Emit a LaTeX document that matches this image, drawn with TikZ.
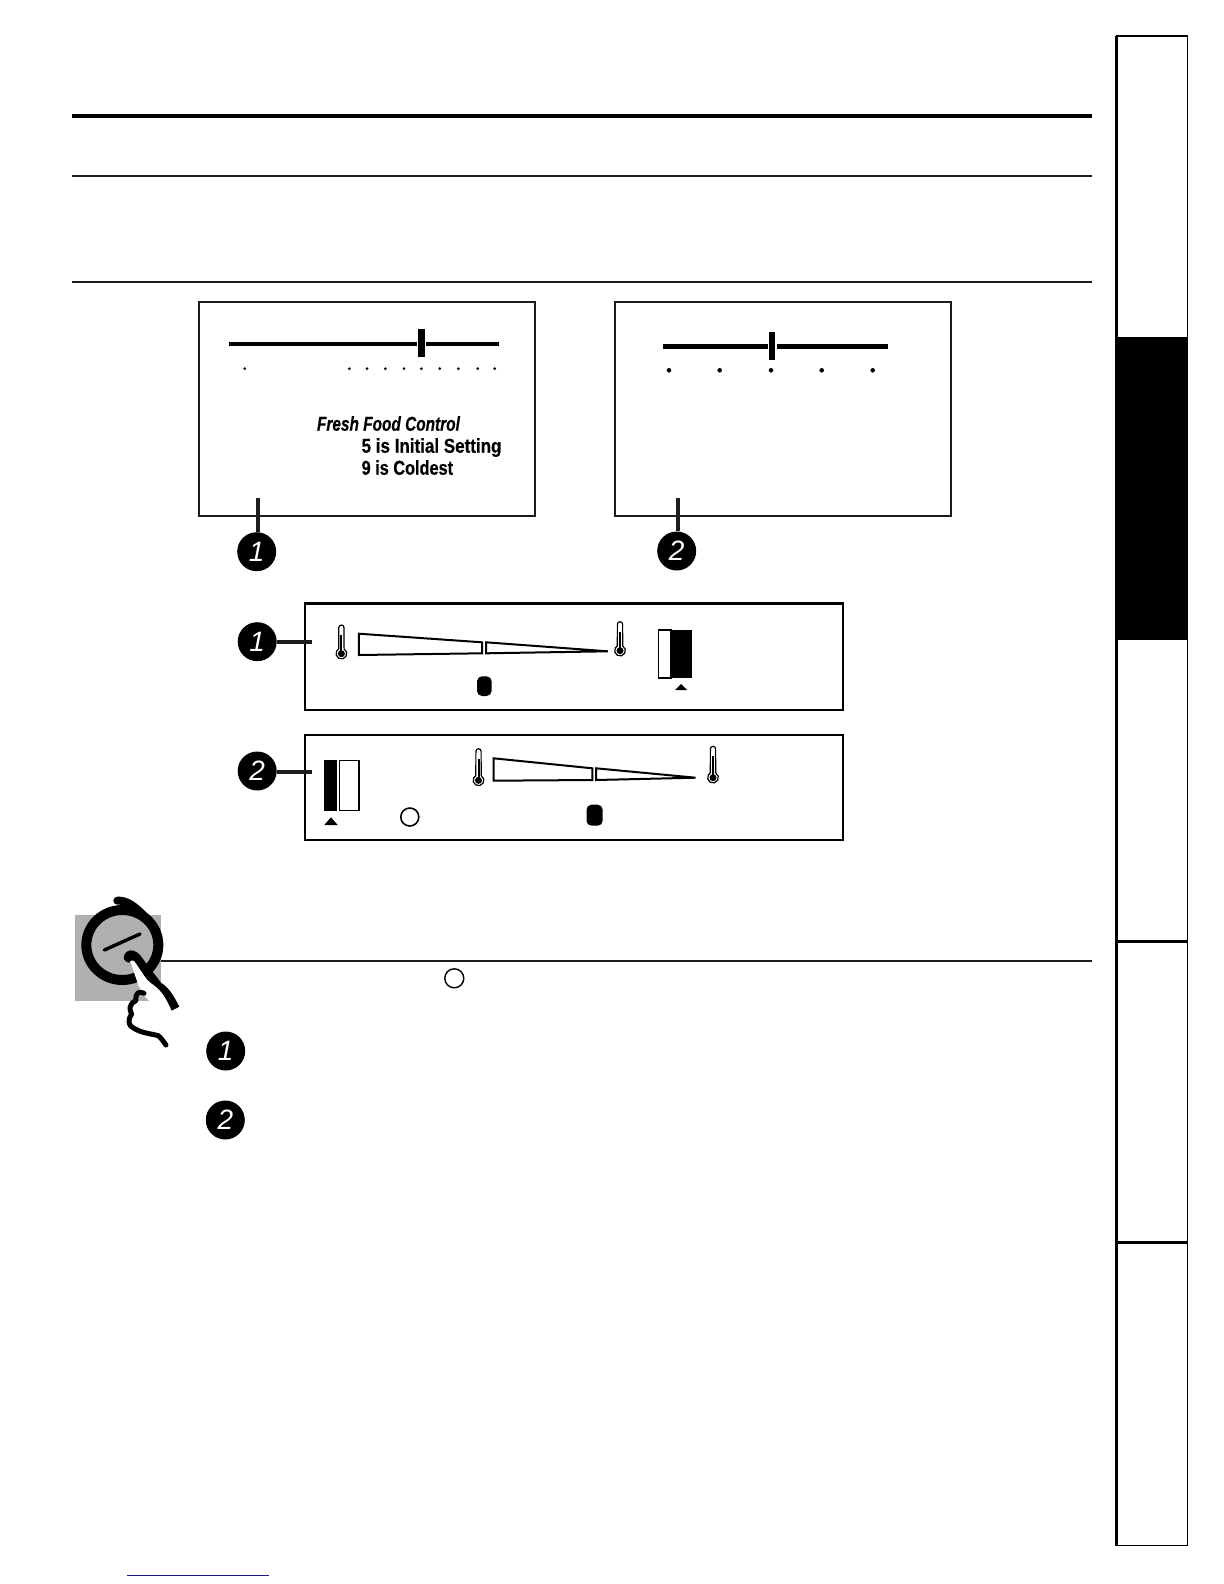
\documentclass[tikz,border=0pt]{standalone}
\usepackage{fontspec}
\setmainfont{Liberation Sans}
\newfontfamily\heavyf[BoldFont={Liberation Sans Bold},BoldItalicFont={Liberation Sans Bold Italic},BoldFeatures={FakeBold=.6},BoldItalicFeatures={FakeBold=.6}]{Liberation Sans}
\definecolor{panelgray}{HTML}{B0B0B0}
\definecolor{linkblue}{HTML}{1A1A8C}
\definecolor{ink}{HTML}{1C1C1C}
\newcommand{\thermo}[3]{% x, top y, bottom y
  \draw[line width=.6pt,fill=white] (#1-2.6,#2+2.6) arc[start angle=180,end angle=360,radius=2.6] -- (#1+2.7,#3-10.4) arc[start angle=-60,end angle=240,radius=5.4] -- cycle;
  \fill (#1,#3-5.6) circle[radius=3.5];
  \fill (#1-1,#2+10) rectangle (#1+1,#3-6);
}
\tikzset{
  x=.5pt,y=-.5pt,
  rulethick/.style={line width=2pt},
  rulethin/.style={line width=1pt,ink},
  boxline/.style={line width=1.25pt,ink},
  panel/.style={line width=1.1pt,draw=black},
  bullet/.style={circle,fill=black,text=white,minimum size=19.5pt,inner sep=0pt,font=\fontsize{14}{14}\selectfont\itshape},
  leader/.style={line width=2pt,ink},
  labelt/.style={anchor=base west,inner sep=0pt,xscale=.85,font=\heavyf\bfseries\fontsize{10}{10}\selectfont},
  labelc/.style={anchor=base west,inner sep=0pt,xscale=.815,font=\heavyf\bfseries\fontsize{10}{10}\selectfont},
  labeli/.style={anchor=base west,inner sep=0pt,xscale=.77,font=\heavyf\bfseries\itshape\fontsize{10}{10}\selectfont},
  wedge/.style={line width=1pt,draw=black,fill=white,line join=miter},
  tabline/.style={line width=.75pt,draw=black},
}
\begin{document}
\begin{tikzpicture}
\useasboundingbox (0,0) rectangle (1224,1584);
% rules
\draw[rulethick] (71.5,116) -- (1092,116);
\draw[rulethin] (71.5,175.7) -- (1092,175.7);
\draw[rulethin] (71.5,281.6) -- (1092,281.6);
% boxes
\draw[boxline] (199,302) rectangle (535,516);
\draw[boxline] (615,302) rectangle (951,516);
% slider 1
\draw[line width=2pt] (229,343.7) -- (499,343.7);
\fill[white] (417,335) rectangle (426,352);
\fill (418,329) rectangle (425,357);
\foreach \dx in {244.7,349.3,367,385.3,404,421.3,439.7,458.3,477.7,494.7}
  \fill (\dx,368.7) circle[radius=1.5];
% slider 2
\draw[line width=2.5pt] (663,346.3) -- (888,346.3);
\fill[white] (767.6,338) rectangle (776.6,355);
\fill (769,332) rectangle (775,360);
\foreach \dx in {669,719.7,771,821.7,872.7}
  \fill (\dx,370.3) circle[radius=2.3];
% labels
\node[labeli] (ffc) at (316.7,430.7) {Fresh Food Control};
\node[labelt] (initial) at (361.3,452.7) {5 is Initial Setting};
\node[labelc] (coldest) at (361.3,474.7) {9 is Coldest};
% upper callouts
\coordinate (u1) at (258,498);
\coordinate (u2) at (678,498);
\node[bullet] (c1) at (256.7,551.7) {1};
\node[bullet] (c2) at (676.7,551) {2};
\draw[leader] (u1 |- c1.north) -- (u1);
\draw[leader] (u2 |- c2.north) -- (u2);
% panel A
\draw[panel] (305,603.5) rectangle (843,709.7);
\thermo{341.4}{625}{659.3}
\draw[wedge] (358.8,633.7) -- (482,642.3) -- (482,653.3) -- (358.8,655) -- cycle;
\draw[wedge] (486,642.3) -- (607.8,651.3) -- (486,653.3) -- cycle;
\thermo{620}{621.7}{656.3}
\draw[line width=.9pt,fill=white] (658.4,630.3) rectangle (670.7,677.7);
\fill (672.2,630) rectangle (692,678);
\fill (675,690) -- (681,684) -- (687,690) -- cycle;
\fill[rounded corners=2.5pt] (477,676.3) rectangle (491.6,696);
\coordinate (a1) at (312,641.7);
\node[bullet] (c3) at (257.2,641.7) {1};
\draw[leader] (c3.east |- a1) -- (a1);
% panel B
\draw[panel] (305,734.7) rectangle (843,840);
\fill (324,760) rectangle (336.6,811);
\draw[line width=.9pt,fill=white] (339.4,760.5) rectangle (358.8,810.5);
\fill (324.3,825) -- (331,817.3) -- (337.7,825) -- cycle;
\draw[line width=.8pt] (409.8,817) circle[radius=9];
\thermo{478.5}{748.7}{786}
\draw[wedge] (493.6,758.3) -- (592.4,768.3) -- (592.4,780) -- (493.6,780.7) -- cycle;
\draw[wedge] (596,768.3) -- (695.6,777.7) -- (596,780) -- cycle;
\thermo{713}{746.3}{783.3}
\fill[rounded corners=2.5pt] (586.5,804.7) rectangle (602.7,825.7);
\coordinate (b1) at (312,771.7);
\node[bullet] (c4) at (257.2,771) {2};
\draw[leader] (c4.east |- b1) -- (b1);
% hand icon
\fill[panelgray] (75,915) rectangle (161,1000.7);
\draw[rulethin] (161,960.7) -- (1092,960.7);
\begin{scope}[shift={(60,870)},scale=1/3]
  \draw[line width=5pt] (187,225) circle[x radius=108,y radius=105];
  \draw[line width=4pt,line cap=round] (172,92) .. controls (200,90) and (225,110) .. (250,135);
  \draw[line width=1.7pt,line cap=round] (133,240) -- (240,192);
  % white inside of the finger
  \fill[white] (210,272) -- (235,345) -- (250,375) -- (300,425) -- (340,425) -- (310,358) -- (262,325) -- (228,272) -- cycle;
  % finger tip and outer stroke
  \fill[line join=round] (192,268) .. controls (188,245) and (215,228) .. (240,255) -- (303,338) .. controls (330,355) and (345,385) .. (358,410) -- (335,422) .. controls (322,392) and (310,370) .. (290,352) .. controls (275,340) and (265,335) .. (255,320) -- (228,280) .. controls (222,268) and (212,268) .. (208,278) .. controls (202,278) and (196,274) .. (192,268) -- cycle;
  % palm wiggle
  \draw[line width=2.5pt,line cap=round,line join=round] (252,370) .. controls (238,362) and (225,368) .. (228,392) .. controls (205,402) and (208,420) .. (215,432) .. controls (205,445) and (205,460) .. (212,468) .. controls (240,490) and (270,490) .. (295,497) .. controls (305,505) and (310,515) .. (318,525);
\end{scope}
\draw[line width=.7pt] (454.3,978.3) circle[radius=9.5];
\node[bullet] (c5) at (225.7,1051) {1};
\node[bullet] (c6) at (225.3,1120) {2};
% side tabs
\fill (1116.5,337) rectangle (1187.3,640);
\draw[tabline] (1116.5,36) rectangle (1187.3,1545.6);
\draw[line width=1.1pt] (1116.5,36) -- (1116.5,1545.6);
\draw[line width=1.5pt] (1116.5,941) -- (1187.3,941);
\draw[line width=1.5pt] (1116.5,1242.7) -- (1187.3,1242.7);
% blue line
\draw[line width=.6pt,linkblue] (127,1575.3) -- (269,1575.3);
\end{tikzpicture}
\end{document}
